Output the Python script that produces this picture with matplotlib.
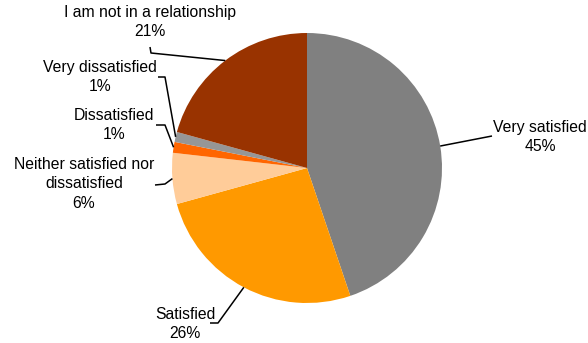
import matplotlib.pyplot as plt
import numpy as np

plt.rcParams['font.family'] = ['Liberation Sans', 'DejaVu Sans']

# slice data, clockwise from 12 o'clock
categories = ['Very satisfied', 'Satisfied', 'Neither satisfied nor\ndissatisfied',
              'Dissatisfied', 'Very dissatisfied', 'I am not in a relationship']
shares = [44.8, 25.9, 6.1, 1.3, 1.2, 20.7]
colors = ['#808080', '#FF9900', '#FFCC99', '#FF6600', '#969696', '#993300']

W, H = 588, 343
fig = plt.figure(figsize=(W / 100, H / 100), dpi=100)
ax = fig.add_axes([0, 0, 1, 1])

cx, cy, r = 307, H - 168, 135
wedges, _ = ax.pie(shares, colors=colors, startangle=90, counterclock=False,
                   center=(cx, cy), radius=r, frame=True)
ax.set_xlim(0, W)
ax.set_ylim(0, H)
ax.set_aspect('equal')
ax.axis('off')

# label text centre and leader elbow(s), in pixel coords (y down)
label_pos = [(540, 137), (185, 324), (84, 184), (114, 125), (100, 77), (150, 22)]
elbows = [
    [(492, 136)],
    [(210, 323), (218, 323)],
    [(155, 185), (165, 184)],
    [(156, 125), (165, 125)],
    [(158, 77), (165, 77)],
    [(150, 47), (151, 53)],
]

for w, cat, val, (tx, ty), elb in zip(wedges, categories, shares, label_pos, elbows):
    ang = np.deg2rad((w.theta1 + w.theta2) / 2)
    ax_, ay_ = cx + r * np.cos(ang), cy + r * np.sin(ang)
    pts = [(x, H - y) for x, y in elb] + [(ax_, ay_)]
    xs, ys = zip(*pts)
    ax.plot(xs, ys, color='black', lw=1.1, solid_capstyle='butt')
    ax.text(tx, H - ty, f'{cat}\n{round(val)}%', ha='center', va='center',
            fontsize=11.3, linespacing=1.4, color='black')

fig.savefig('out.png', dpi=100)
